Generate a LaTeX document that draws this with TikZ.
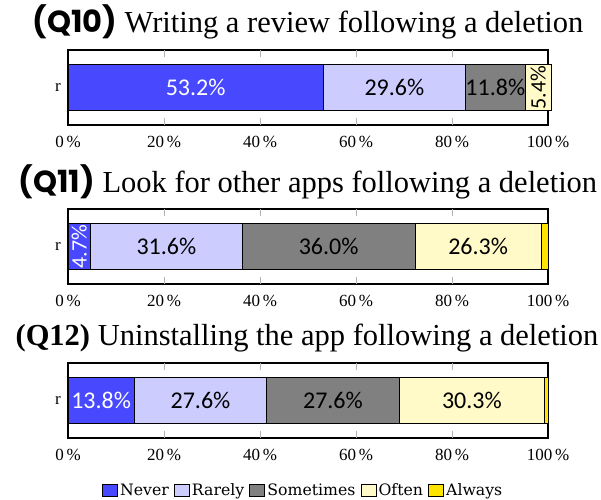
\documentclass[tikz,border=0pt]{standalone}
\usepackage{fontspec}
\setmainfont{Liberation Serif}
\newfontfamily\barfont{Carlito}
\newfontfamily\qfont{Poppins}
\newfontfamily\keyfont{DejaVu Serif}
\usetikzlibrary{positioning}

\definecolor{never}{RGB}{72,72,255}
\definecolor{rarely}{RGB}{204,204,255}
\definecolor{sometimes}{RGB}{128,128,128}
\definecolor{often}{RGB}{255,250,200}
\definecolor{always}{RGB}{255,228,0}

\begin{document}
\begin{tikzpicture}[
	x=1pt, y=-1pt,
	frame/.style={draw, line width=1.3pt, minimum width=480pt, minimum height=75pt,
		inner sep=0pt, outer sep=0pt},
	seg/.style={draw, line width=0.8pt, inner sep=0pt, outer sep=0pt, minimum height=46pt,
		font=\barfont\fontsize{24}{24}\selectfont},
	uplab/.style={rotate=90, inner sep=0pt, font=\barfont\fontsize{22}{22}\selectfont},
	gridtick/.style={draw=gray!60, line width=0.8pt},
	ticklab/.style={font=\fontsize{17}{17}\selectfont},
	title/.style={font=\fontsize{30.5}{30.5}\selectfont},
	rowlab/.style={font=\fontsize{17}{17}\selectfont, inner sep=0pt},
	key/.style={draw, line width=0.8pt, minimum width=15pt, minimum height=12pt, inner sep=0pt},
	keylab/.style={font=\keyfont\fontsize{15.7}{15.7}\selectfont, inner sep=0pt,
		text height=11pt, text depth=1pt}
	]
	\useasboundingbox (0,0) rectangle (601,499);

	% Q10
	\node[title] (t10) at (308,22) {{\qfont\bfseries (Q10)} Writing a review following a deletion};
	\node[frame] (box10) at (308,87.5) {};
	\node[seg, fill=never, text=white, minimum width=255.36pt, anchor=west] (q10a) at (box10.west) {53.2\%};
	\node[seg, fill=rarely, minimum width=142.08pt, right=0pt of q10a] (q10b) {29.6\%};
	\node[seg, fill=sometimes, minimum width=56.64pt, right=0pt of q10b] (q10c) {11.8\%};
	\node[seg, fill=often, minimum width=25.92pt, right=0pt of q10c] (q10d) {};
	\node[uplab] (q10dl) at (q10d) {5.4\%};
	\node[rowlab, left=7pt of box10] (r10) {r};

	% Q11
	\node[title] (t11) at (308,182) {{\qfont\bfseries (Q11)} Look for other apps following a deletion};
	\node[frame] (box11) at (308,246.5) {};
	\node[seg, fill=never, minimum width=22.56pt, anchor=west] (q11a) at (box11.west) {};
	\node[uplab, text=white] (q11al) at (q11a) {4.7\%};
	\node[seg, fill=rarely, minimum width=151.68pt, right=0pt of q11a] (q11b) {31.6\%};
	\node[seg, fill=sometimes, minimum width=172.8pt, right=0pt of q11b] (q11c) {36.0\%};
	\node[seg, fill=often, minimum width=126.24pt, right=0pt of q11c] (q11d) {26.3\%};
	\node[seg, fill=always, minimum width=6.72pt, right=0pt of q11d] (q11e) {};
	\node[rowlab, left=7pt of box11] (r11) {r};

	% Q12
	\node[title] (t12) at (307,338) {{\bfseries (Q12)} Uninstalling the app following a deletion};
	\node[frame] (box12) at (308,400.5) {};
	\node[seg, fill=never, text=white, minimum width=66.24pt, anchor=west] (q12a) at (box12.west) {13.8\%};
	\node[seg, fill=rarely, minimum width=132.48pt, right=0pt of q12a] (q12b) {27.6\%};
	\node[seg, fill=sometimes, minimum width=132.48pt, right=0pt of q12b] (q12c) {27.6\%};
	\node[seg, fill=often, minimum width=145.44pt, right=0pt of q12c] (q12d) {30.3\%};
	\node[seg, fill=always, minimum width=3.36pt, right=0pt of q12d] (q12e) {};
	\node[rowlab, left=7pt of box12] (r12) {r};

	% ticks and tick labels
	\foreach \b in {box10,box11,box12}{
		\foreach \p in {20,40,60,80}{
			\draw[gridtick] ([xshift=\p*4.8pt]\b.north west) -- ++(0,7);
			\draw[gridtick] ([xshift=\p*4.8pt]\b.south west) -- ++(0,-7);
		}
		\foreach \p in {0,20,...,100}
			\node[ticklab] (\b-l\p) at ([xshift=\p*4.8pt, yshift=-17pt]\b.south west) {\p\,\%};
	}

	% legend
	\node[key, fill=never] (kNever) at (110,490.5) {};
	\node[keylab, right=2pt of kNever] (lNever) {Never};
	\node[key, fill=rarely, right=5pt of lNever] (kRarely) {};
	\node[keylab, right=2pt of kRarely] (lRarely) {Rarely};
	\node[key, fill=sometimes, right=5pt of lRarely] (kSometimes) {};
	\node[keylab, right=2pt of kSometimes] (lSometimes) {Sometimes};
	\node[key, fill=often, right=5pt of lSometimes] (kOften) {};
	\node[keylab, right=2pt of kOften] (lOften) {Often};
	\node[key, fill=always, right=5pt of lOften] (kAlways) {};
	\node[keylab, right=2pt of kAlways] (lAlways) {Always};
\end{tikzpicture}
\end{document}
